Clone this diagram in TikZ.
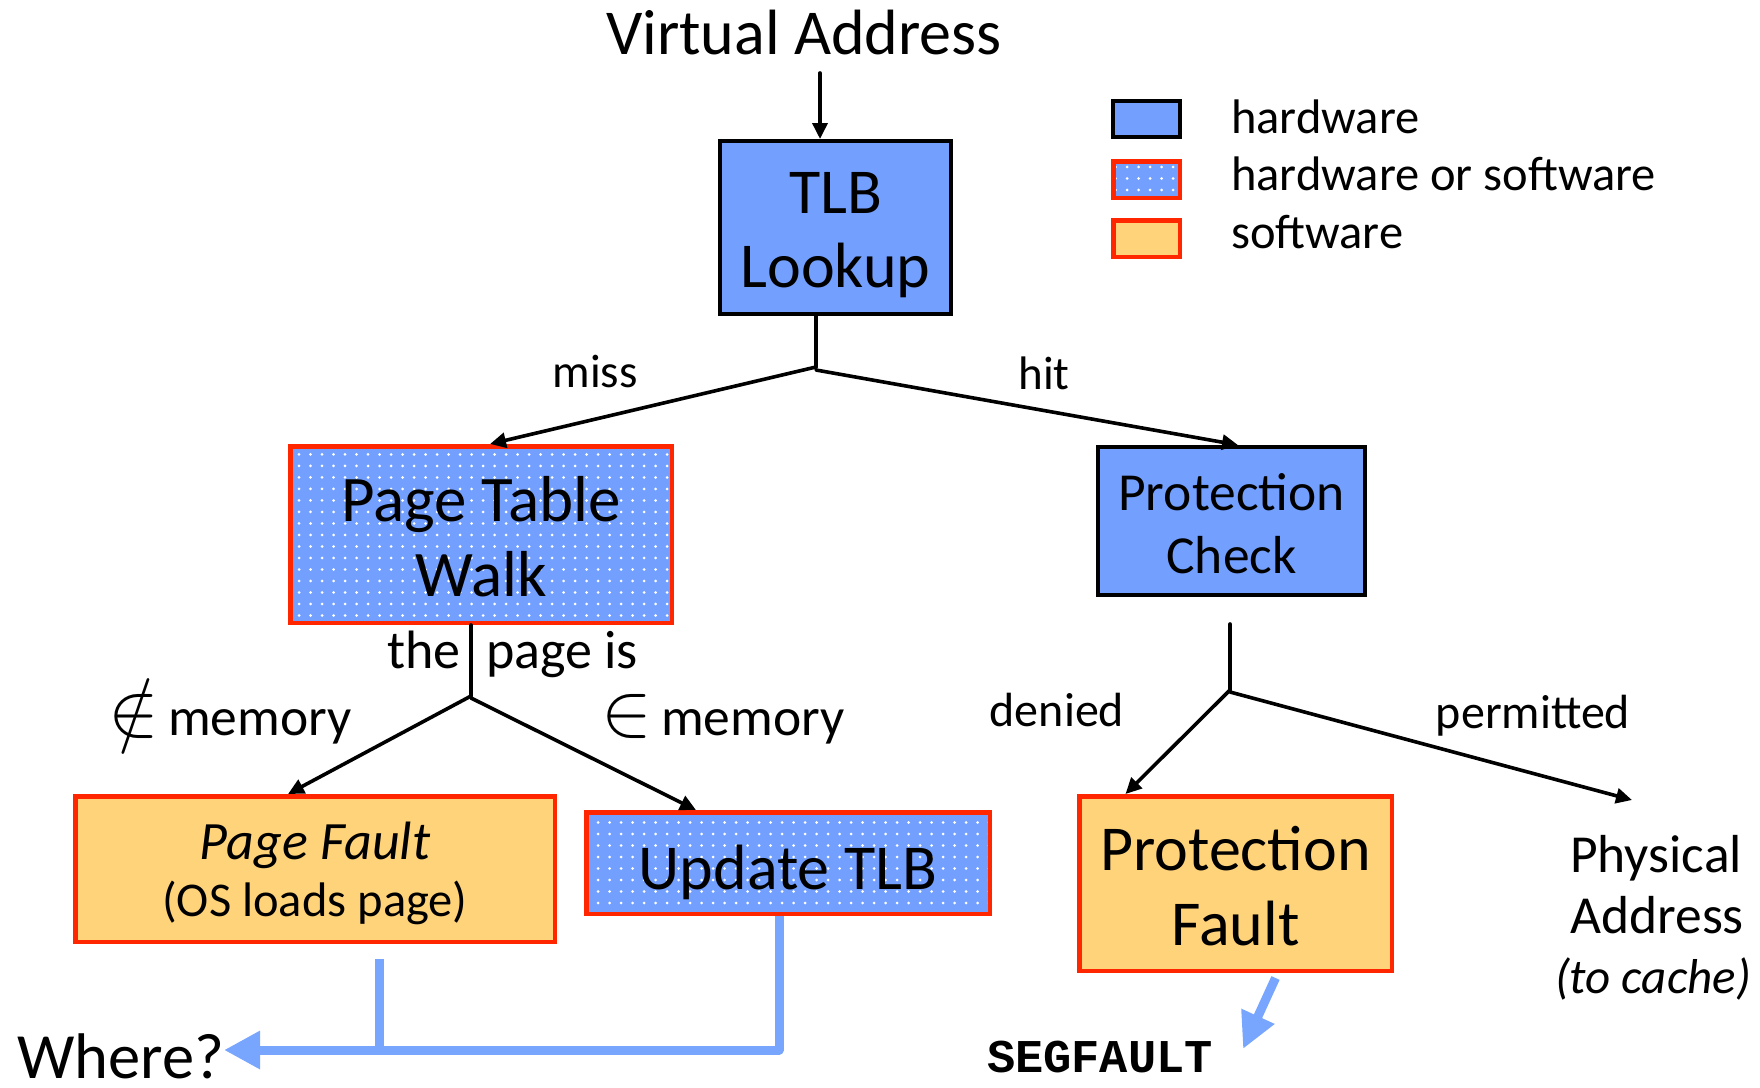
\RequirePackage{fix-cm}
\documentclass[tikz,border=0pt]{standalone}
\usepackage{fontspec}
\setmainfont{Carlito}
\newfontfamily\segfont{Liberation Mono}
\usetikzlibrary{arrows.meta,patterns.meta}
\definecolor{hwblue}{RGB}{115,160,255}
\definecolor{swfill}{RGB}{255,211,122}
\definecolor{redline}{RGB}{255,38,0}
\definecolor{arrowblue}{RGB}{120,166,255}
\newcommand{\fs}[2]{\fontsize{#1}{#2}\selectfont}
\newcommand{\topstrut}[1]{\rule{0pt}{#1}}
\newcommand{\botstrut}[1]{\rule[-#1]{0pt}{#1}}
\newcommand{\bigsym}[1]{{\fs{76}{76}$#1$}}
\begin{document}
\begin{tikzpicture}[x=1pt,y=-1pt,
  box/.style={rectangle, inner sep=0pt, align=center},
  hwbox/.style={box, draw=black, line width=4pt, fill=hwblue},
  hsbox/.style={box, draw=redline, line width=4.5pt, preaction={fill=hwblue},
    pattern={Dots[distance=11.5pt,radius=1.5pt]}, pattern color=white},
  swbox/.style={box, draw=redline, line width=4.5pt, fill=swfill},
  lbl/.style={inner sep=0pt, anchor=base},
  conn/.style={line width=3.6pt, black, line cap=round},
  arr/.style={conn, -{Triangle[length=16pt,width=15pt]}},
  bluearr/.style={line width=9pt, arrowblue, line join=round},
]
\useasboundingbox (0,0) rectangle (1760,1087);

% legend
\node[hwbox, minimum width=67pt, minimum height=36pt] (lg1) at (1146.5,119) {};
\node[hsbox, minimum width=66.5pt, minimum height=36.5pt] (lg2) at (1146.5,179.5) {};
\node[swbox, minimum width=66.5pt, minimum height=36.5pt] (lg3) at (1146.5,238.5) {};
\node[lbl, anchor=base west, font=\fs{48.5}{58}] (lt1) at (1231,133) {hardware};
\node[lbl, anchor=base west, font=\fs{48.5}{58}] (lt2) at (1231,190) {hardware or software};
\node[lbl, anchor=base west, font=\fs{48.5}{58}] (lt3) at (1231,248) {software};

% top
\node[lbl, font=\fs{64}{74}] (va) at (804,54) {Virtual Address};
\node[hwbox, minimum width=231pt, minimum height=173pt, font=\fs{64}{74}] (tlb) at (835.5,227.5)
  {\topstrut{66pt}TLB\\Lookup\botstrut{20pt}};
\draw[arr] ([xshift=16pt,yshift=-19pt]va.base) -- ([xshift=-15.5pt]tlb.north);

% second level
\node[hsbox, minimum width=381.5pt, minimum height=176.5pt, font=\fs{65}{75}] (ptw) at (481,534.5)
  {\topstrut{68pt}Page Table\\Walk\botstrut{20pt}};
\node[hwbox, minimum width=267pt, minimum height=148pt, font=\fs{53.5}{63}] (pc) at (1231.5,521)
  {\topstrut{60pt}Protection\\Check\botstrut{18pt}};

\coordinate (j1) at (816,367);
\draw[conn] (tlb.south -| j1) -- (j1);
\draw[arr] (j1) -- ([xshift=9pt]ptw.north);
\draw[arr] ([yshift=-3pt]j1) -- ([xshift=6.5pt]pc.north);
\node[lbl, font=\fs{47}{56}] (miss) at (595,387) {miss};
\node[lbl, font=\fs{47}{56}] (hit) at (1044,389) {hit};

% third level, left
\node[swbox, minimum width=479.5pt, minimum height=145.5pt, font=\fs{54}{57}] (pf) at (315,869)
  {\topstrut{55pt}\textit{Page Fault}\\{\fs{48.5}{56}(OS loads page)}\botstrut{18pt}};
\node[hsbox, minimum width=403.5pt, minimum height=101.5pt, font=\fs{64}{74}] (ut) at (788,863)
  {\topstrut{72pt}Update TLB\botstrut{20pt}};

\coordinate (j2) at (471,696);
\draw[conn] (ptw.south -| j2) -- (j2);
\draw[arr] (j2) -- ([xshift=-27pt]pf.north);
\draw[arr] ([yshift=-2pt]j2) -- ([xshift=-92pt]ut.north);
\node[lbl, anchor=base east, font=\fs{54}{62}] (the) at (461,668) {the};
\node[lbl, anchor=base west, font=\fs{54}{62}] (pageis) at (486,668) {page is};
\node[lbl, font=\fs{53.5}{62}] (notin) at (230,735) {\bigsym{\notin}\,memory};
\node[lbl, font=\fs{53.5}{62}] (isin) at (723,735) {\bigsym{\in}\,memory};

% third level, right
\node[swbox, minimum width=312.5pt, minimum height=174.5pt, font=\fs{64}{75}] (pfl) at (1235.5,883.5)
  {\topstrut{69pt}Protection\\Fault\botstrut{20pt}};
\coordinate (j3) at (1230,690);
\coordinate (paddr) at (1632,800);
\draw[conn] ([yshift=-27pt]pc.south -| j3) -- (j3);
\draw[arr] (j3) -- ([xshift=-110pt]pfl.north);
\draw[arr] ([yshift=-2pt]j3) -- (paddr);
\node[lbl, font=\fs{48}{56}] (denied) at (1057,726) {denied};
\node[lbl, font=\fs{48}{56}] (perm) at (1533,728) {permitted};

\node[lbl, font=\fs{53.5}{62}] (phys) at (1656,872) {Physical};
\node[lbl, font=\fs{53.5}{62}] (addr) at (1657,933) {Address};
\node[lbl, font=\fs{49}{56}] (tocache) at (1653,993) {\textit{(to cache)}};

% bottom
\node[lbl, anchor=base west, font=\fs{64.5}{74}] (where) at (17,1078) {Where?};
\node[lbl, font=\fs{47}{56}] (seg) at (1100,1072) {\segfont\bfseries SEGFAULT};
\coordinate (bus) at (224,1050);
\draw[bluearr, -{Triangle[length=36pt,width=36pt]}] ([xshift=-9pt]ut.south) |- (bus);
\draw[bluearr] ([xshift=64pt,yshift=-15pt]pf.south) -- ([xshift=64pt]pf.south |- bus);
\coordinate (segtip) at (1243,1049);
\draw[bluearr, -{Triangle[length=36pt,width=34pt]}] ([xshift=40pt,yshift=-5pt]pfl.south) -- (segtip);
\end{tikzpicture}
\end{document}
